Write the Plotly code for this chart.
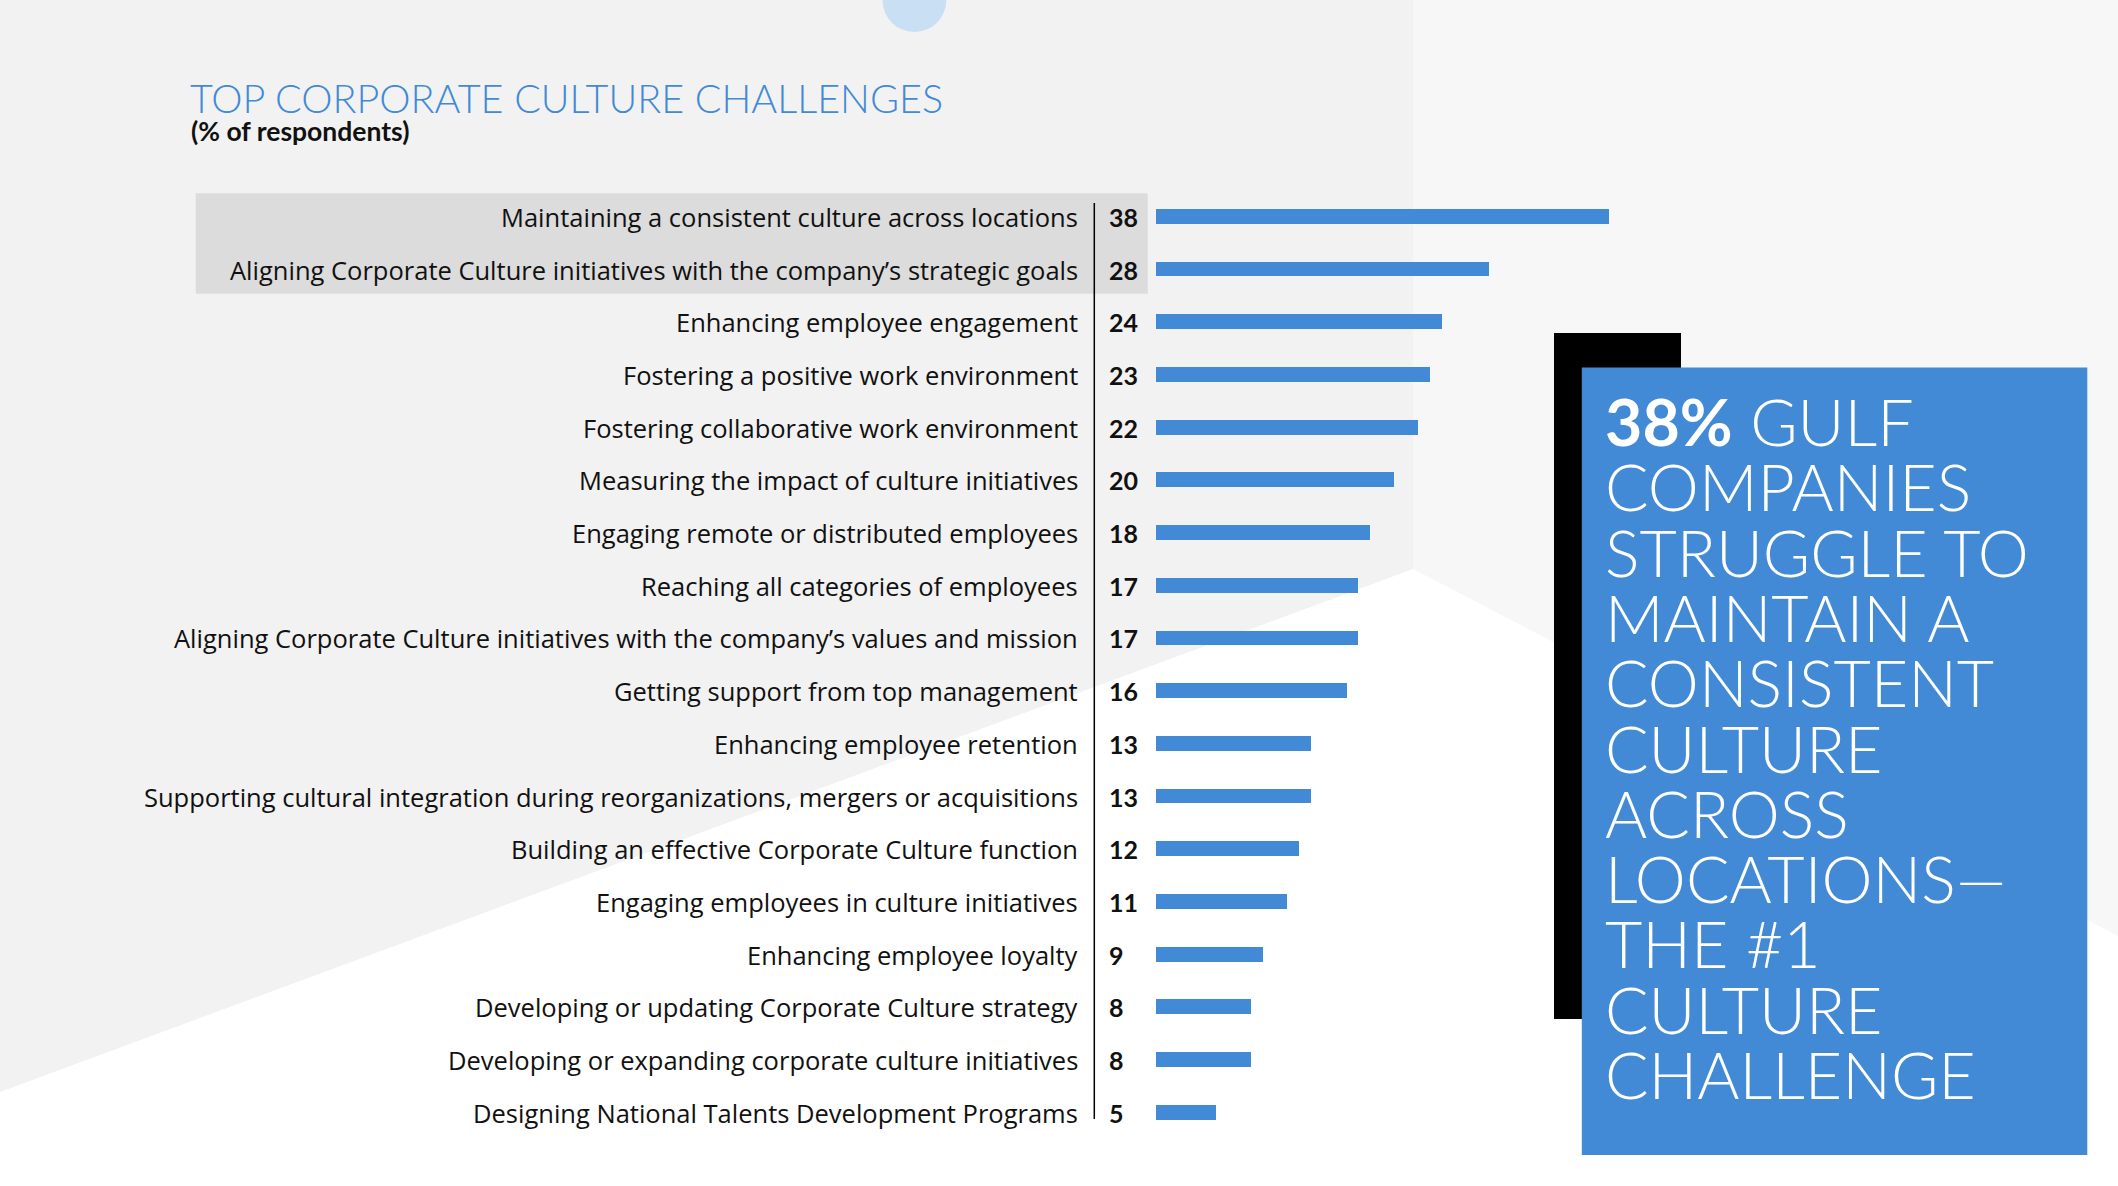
import plotly.graph_objects as go

W, H = 2118, 1186

categories = [
    "Maintaining a consistent culture across locations",
    "Aligning Corporate Culture initiatives with the company’s strategic goals",
    "Enhancing employee engagement",
    "Fostering a positive work environment",
    "Fostering collaborative work environment",
    "Measuring the impact of culture initiatives",
    "Engaging remote or distributed employees",
    "Reaching all categories of employees",
    "Aligning Corporate Culture initiatives with the company’s values and mission",
    "Getting support from top management",
    "Enhancing employee retention",
    "Supporting cultural integration during reorganizations, mergers or acquisitions",
    "Building an effective Corporate Culture function",
    "Engaging employees in culture initiatives",
    "Enhancing employee loyalty",
    "Developing or updating Corporate Culture strategy",
    "Developing or expanding corporate culture initiatives",
    "Designing National Talents Development Programs",
]
values = [38, 28, 24, 23, 22, 20, 18, 17, 17, 16, 13, 13, 12, 11, 9, 8, 8, 5]

title_text = "TOP CORPORATE CULTURE CHALLENGES"
subtitle_text = "(% of respondents)"
callout_lines = ["<b>38%</b> GULF", "COMPANIES", "STRUGGLE TO", "MAINTAIN A",
                 "CONSISTENT", "CULTURE", "ACROSS", "LOCATIONS—", "THE #1",
                 "CULTURE", "CHALLENGE"]

BLUE = "#428ad6"
FONT = "Lato"
LABEL_FONT = "Open Sans"


def px(x):
    return x / W


def py(y):
    return 1 - y / H


n = len(categories)
row0, pitch = 216.8, 52.7
bar_x0 = 1156
scale = 11.91
xmax = 60

fig = go.Figure()
fig.add_trace(go.Bar(
    x=values, y=categories, orientation="h", width=0.28,
    marker=dict(color=BLUE, line=dict(width=0)), hoverinfo="x+y",
))

shapes = [
    # background panels
    dict(type="rect", xref="paper", yref="paper", x0=0, x1=px(1413), y0=0, y1=1,
         fillcolor="#f2f2f2", line=dict(width=0), layer="below"),
    dict(type="rect", xref="paper", yref="paper", x0=px(1413), x1=1, y0=0, y1=1,
         fillcolor="#f7f7f7", line=dict(width=0), layer="below"),
    dict(type="path", xref="paper", yref="paper",
         path=f"M 0,{py(1092)} L {px(1413)},{py(569)} L 1,{py(936)} L 1,0 L 0,0 Z",
         fillcolor="#ffffff", line=dict(width=0), layer="below"),
    # decorative circle
    dict(type="circle", xref="paper", yref="paper", x0=px(882.5), x1=px(946.3),
         y0=py(32), y1=py(-32), fillcolor="#c9dff4", line=dict(width=0), layer="below"),
    # highlight box
    dict(type="rect", xref="paper", yref="paper", x0=px(195.7), x1=px(1147.7),
         y0=py(293.7), y1=py(193.3), fillcolor="#dcdcdc", line=dict(width=0), layer="below"),
    # separator line
    dict(type="line", xref="paper", yref="paper", x0=px(1094.3), x1=px(1094.3),
         y0=py(1119), y1=py(203), line=dict(color="#000000", width=1.5), layer="below"),
    # callout boxes
    dict(type="rect", xref="paper", yref="paper", x0=px(1554), x1=px(1681),
         y0=py(1019), y1=py(333), fillcolor="#000000", line=dict(width=0), layer="above"),
    dict(type="rect", xref="paper", yref="paper", x0=px(1581.8), x1=px(2087.3),
         y0=py(1155), y1=py(367.6), fillcolor=BLUE, line=dict(width=0), layer="above"),
]

annotations = [
    dict(text=title_text, xref="paper", yref="paper", x=px(188), y=py(97),
         xanchor="left", yanchor="middle", showarrow=False,
         font=dict(family=FONT, size=39.5, color=BLUE, weight=300)),
    dict(text=subtitle_text, xref="paper", yref="paper", x=px(189), y=py(131),
         xanchor="left", yanchor="middle", showarrow=False,
         font=dict(family=FONT, size=26.5, color="#111111", weight=700)),
]

for cat, v in zip(categories, values):
    annotations.append(dict(
        text=cat, xref="paper", yref="y", x=px(1080), y=cat,
        xanchor="right", yanchor="middle", showarrow=False,
        font=dict(family=LABEL_FONT, size=25.5, color="#111111")))
    annotations.append(dict(
        text=f"<b>{v}</b>", xref="paper", yref="y", x=px(1107), y=cat,
        xanchor="left", yanchor="middle", showarrow=False,
        font=dict(family=FONT, size=25, color="#111111")))

for i, line in enumerate(callout_lines):
    annotations.append(dict(
        text=line, xref="paper", yref="paper", x=px(1603), y=py(421 + i * 65.3),
        xanchor="left", yanchor="middle", showarrow=False,
        font=dict(family=FONT, size=64.5, color="#ffffff", weight=300)))

ytop = row0 - pitch / 2
ybot = row0 + (n - 0.5) * pitch

fig.update_layout(
    width=W, height=H,
    margin=dict(l=0, r=0, t=0, b=0, pad=0),
    paper_bgcolor="#ffffff", plot_bgcolor="rgba(0,0,0,0)",
    showlegend=False,
    bargap=0,
    xaxis=dict(domain=[px(bar_x0), px(bar_x0 + xmax * scale)], range=[0, xmax],
               visible=False, fixedrange=True),
    yaxis=dict(domain=[py(ybot), py(ytop)], type="category",
               categoryorder="array", categoryarray=categories,
               range=[n - 0.5, -0.5], visible=False, fixedrange=True),
    shapes=shapes,
    annotations=annotations,
)

fig.write_html("out.html")
